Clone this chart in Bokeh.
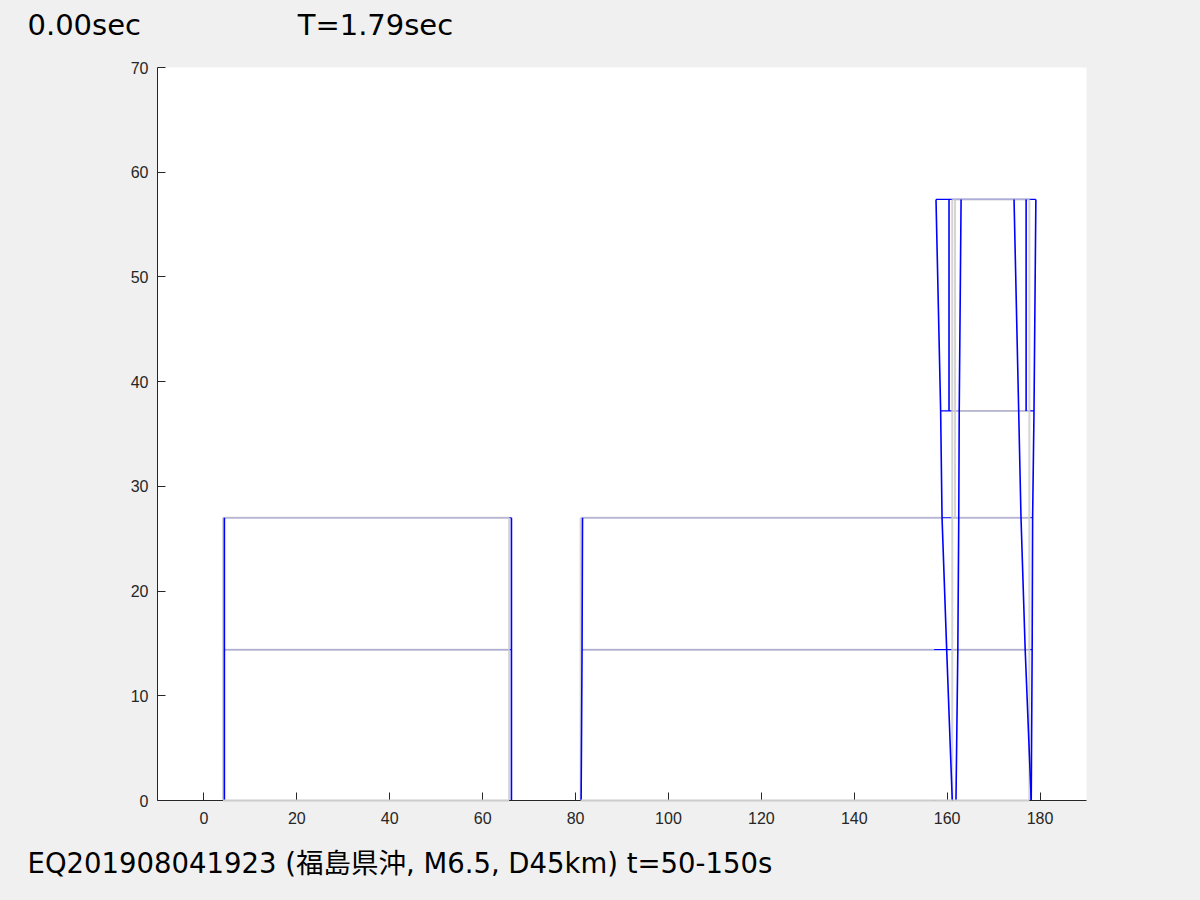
from bokeh.plotting import figure
from bokeh.models import FixedTicker, Range1d, Title
from bokeh.embed import file_html
from bokeh.resources import INLINE

# ---------------- data ----------------
x_ticks = [0, 20, 40, 60, 80, 100, 120, 140, 160, 180]
y_ticks = [0, 10, 20, 30, 40, 50, 60, 70]

levels_low = [0.0, 14.4, 27.0]
levels_tower = [0.0, 14.4, 27.0, 37.2, 57.4]

# undeformed (gray) structure
frameA_cols = [4.1, 65.7]
frameB_col = 81.1
tower_cols = [161.1, 177.7]
tower_upper_col = 161.7          # spans 27.0 -> 57.4
frameB_beam_end = [157.2, 157.2, 158.9]   # where gray beams of frame B stop

# deformed (blue) structure
frameA_cols_def = [4.4, 66.2]
frameB_col_def = [81.2, 81.4, 81.5]
tower_left_def1 = [161.1, 159.9, 158.9, 158.6, 157.6]
tower_right_def1 = [178.1, 178.3, 178.4, 178.7, 179.1]
tower_left_def2 = [161.9, 162.3, 162.5, 162.6, 163.0]
tower_right_def2 = [178.1, 176.8, 175.9, 175.4, 174.4]
tower_upper_def = [160.4, 177.0]  # spans 37.2 -> 57.4

time_text = "0.00sec"
period_text = "T=1.79sec"
caption = "EQ201908041923 (福島県沖, M6.5, D45km) t=50-150s"

BLUE = "#0000ff"
GRAY = "#cccccc"
INK = "#262626"
BG = "#f0f0f0"
FONT = "DejaVu Sans, Noto Sans CJK JP"
SHIFT = 21   # page is shifted up by this many pixels so the top title can sit higher

p = figure(width=1184, height=884 + SHIFT + 12, x_range=Range1d(-10, 190), y_range=Range1d(0, 70),
           output_backend="svg", toolbar_location=None,
           min_border_left=157, min_border_right=98, min_border_top=67 + SHIFT, min_border_bottom=96)
p.background_fill_color = "white"
p.border_fill_color = BG
p.outline_line_color = None
p.grid.visible = False

for ax in (p.xaxis[0], p.yaxis[0]):
    ax.axis_line_color = INK
    ax.major_tick_line_color = INK
    ax.major_tick_in = 8
    ax.major_tick_out = 0
    ax.minor_tick_line_color = None
    ax.major_label_text_color = INK
    ax.major_label_text_font = "Liberation Sans"
    ax.major_label_text_font_size = "16px"
p.xaxis.ticker = FixedTicker(ticks=x_ticks)
p.yaxis.ticker = FixedTicker(ticks=y_ticks)
p.xaxis.major_label_standoff = 11
p.yaxis.major_label_standoff = 9

# ---- blue beams (drawn first, gray laid over) ----
bx, by = [], []
for i, lv in enumerate(levels_low):
    if lv == 0:
        continue
    bx.append([frameA_cols_def[0], frameA_cols_def[1]]); by.append([lv, lv])
    bx.append([frameB_col_def[i], tower_right_def1[i]]); by.append([lv, lv])
for i, lv in enumerate(levels_tower):
    if lv in levels_low:
        continue
    bx.append([tower_left_def1[i], tower_right_def1[i]]); by.append([lv, lv])
p.multi_line(bx, by, line_color=BLUE, line_width=1.2)

# ---- gray undeformed ----
gx, gy = [], []      # beams and columns
hx, hy = [], []      # ground beams (drawn over the axis line)
for i, lv in enumerate(levels_low):
    tx, ty = (hx, hy) if lv == 0 else (gx, gy)
    tx.append([frameA_cols[0], frameA_cols[1]]); ty.append([lv, lv])
    tx.append([frameB_col, frameB_beam_end[i]]); ty.append([lv, lv])
for lv in levels_tower:
    tx, ty = (hx, hy) if lv == 0 else (gx, gy)
    tx.append([tower_cols[0], tower_cols[1]]); ty.append([lv, lv])
hx.append([frameB_beam_end[0], tower_cols[0]]); hy.append([0, 0])
for c in frameA_cols:
    gx.append([c, c]); gy.append([levels_low[0], levels_low[-1]])
gx.append([frameB_col, frameB_col]); gy.append([levels_low[0], levels_low[-1]])
for c in tower_cols:
    gx.append([c, c]); gy.append([levels_tower[0], levels_tower[-1]])
gx.append([tower_upper_col, tower_upper_col]); gy.append([levels_tower[2], levels_tower[-1]])
p.multi_line(gx, gy, line_color=GRAY, line_width=2, line_alpha=0.85)
p.multi_line(hx, hy, line_color=GRAY, line_width=2, level="overlay")

# ---- blue columns ----
cx, cy = [], []
for c in frameA_cols_def:
    cx.append([c, c, c]); cy.append(levels_low)
cx.append(frameB_col_def); cy.append(levels_low)
for col in (tower_left_def1, tower_right_def1, tower_left_def2, tower_right_def2):
    cx.append(col); cy.append(levels_tower)
for c in tower_upper_def:
    cx.append([c, c]); cy.append([levels_tower[3], levels_tower[4]])
p.multi_line(cx, cy, line_color=BLUE, line_width=1.6)

# ---- texts (titles so they are not clipped to the frame) ----
gap = "\u00a0" * 17
top = Title(text=time_text + gap + period_text, align="left", offset=-130,
            text_font="DejaVu Sans", text_font_size="29px", text_font_style="normal",
            text_color="black", standoff=52)
p.add_layout(top, "above")
bottom = Title(text=caption, align="left", offset=-130,
               text_font=FONT, text_font_size="27.5px", text_font_style="normal",
               text_color="black", standoff=36)
p.add_layout(bottom, "below")

html = file_html(p, INLINE)
css = ("<style>html { background-color: #f0f0f0; } "
       "body { background-color: #f0f0f0; margin: 0; position: relative; top: -%dpx; }</style>" % SHIFT)
html = html.replace("</head>", css + "</head>", 1)
open("out.html", "w").write(html)
